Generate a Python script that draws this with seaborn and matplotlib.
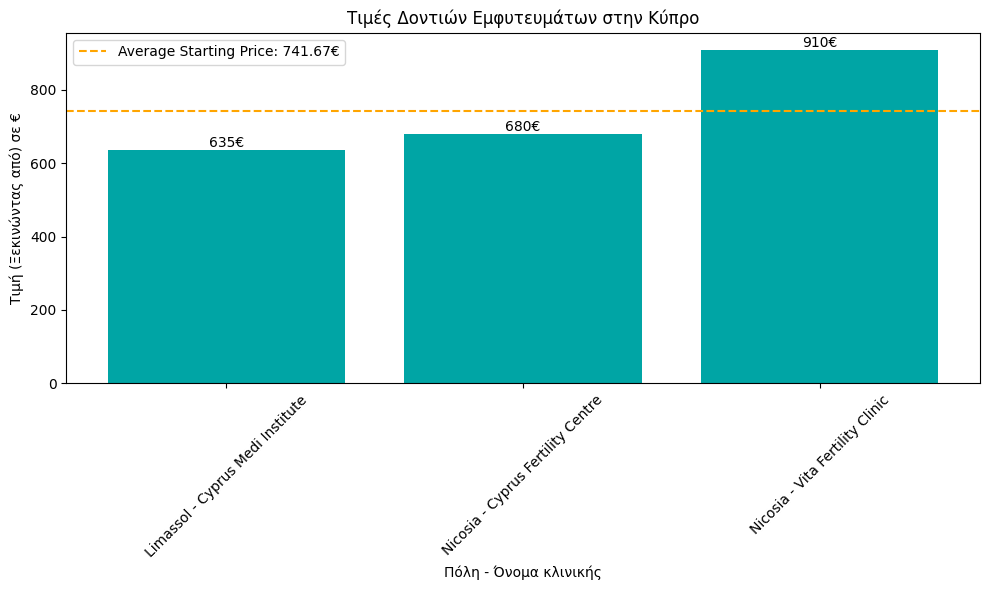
import matplotlib
matplotlib.use('Agg')
import matplotlib.pyplot as plt
import seaborn as sns
import pandas as pd

# Clinic data
clinics = ['Limassol - Cyprus Medi Institute',
           'Nicosia - Cyprus Fertility Centre',
           'Nicosia - Vita Fertility Clinic']
prices = [635, 680, 910]

df = pd.DataFrame({'clinic': clinics, 'price': prices})
avg_price = sum(prices) / len(prices)

fig, ax = plt.subplots(figsize=(9.9, 5.9), dpi=100)
sns.barplot(data=df, x='clinic', y='price', color='#00A5A5', saturation=1, width=0.8, ax=ax)

# matplotlib-style x margins (5% of data span)
span = (len(clinics) - 1) + 0.8
ax.set_xlim(-0.4 - 0.05 * span, len(clinics) - 1 + 0.4 + 0.05 * span)

# Value labels on top of the bars
for patch, p in zip(ax.patches, prices):
    ax.text(patch.get_x() + patch.get_width() / 2, patch.get_height(), f'{p}€',
            ha='center', va='bottom', fontsize=10)

ax.axhline(avg_price, color='orange', linestyle='--',
           label=f'Average Starting Price: {avg_price:.2f}€')
ax.legend(loc='upper left')

ax.set_title('Τιμές Δοντιών Εμφυτευμάτων στην Κύπρο')
ax.set_xlabel('Πόλη - Όνομα κλινικής')
ax.set_ylabel('Τιμή (Ξεκινώντας από) σε €')
plt.xticks(rotation=45)
plt.tight_layout(pad=0.72)
plt.savefig('out.png', dpi=100)
